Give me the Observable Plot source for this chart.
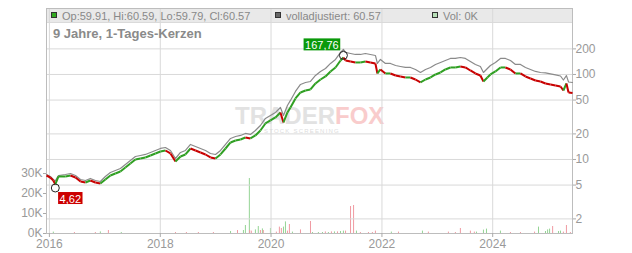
<!DOCTYPE html>
<html><head><meta charset="utf-8">
<script src="https://cdn.jsdelivr.net/npm/d3@7"></script>
<script src="https://cdn.jsdelivr.net/npm/@observablehq/plot@0.6"></script>
<style>
body{margin:0;background:#fff;font-family:"Liberation Sans",Arial,sans-serif;}
#wrap{position:relative;width:632px;height:253px;overflow:hidden;background:#fff}
#wrap svg{position:absolute;left:0;top:0}
.abs{position:absolute;white-space:nowrap}
.band{left:46px;top:8px;width:526px;height:15px;background:#e9e9e9;border-bottom:1px solid #dadada;box-sizing:border-box}
.sq{width:4px;height:4px;border:1px solid #333;top:12px}
.leg{font-size:11px;line-height:11px;color:#888;top:10.5px}
.title{font-size:13px;line-height:13px;font-weight:bold;color:#8a8a8a;left:53px;top:27px}
.wm{font-size:24px;line-height:24px;font-weight:bold;left:235px;top:104px;letter-spacing:0px}
.tag{font-size:6px;line-height:7px;color:#dcdcdc;left:264px;top:128px;letter-spacing:1.2px}
</style></head>
<body>
<div id="wrap">
  <div class="abs band"></div>
  <div class="abs wm"><span style="color:#e2e2e2">TRADER</span><span style="color:#f9cccc">FOX</span></div>
  <div class="abs tag">STOCK SCREENING</div>
</div>
<script>
// ---- data ----
const dates = ["2015-12-13","2016-01-07","2016-01-27","2016-02-09","2016-03-01","2016-04-16","2016-05-19","2016-06-21","2016-07-24","2016-08-26","2016-09-27","2016-10-30","2016-12-02","2017-01-04","2017-02-06","2017-03-11","2017-04-13","2017-05-16","2017-06-18","2017-07-21","2017-08-23","2017-09-25","2017-10-28","2017-11-30","2018-01-02","2018-02-04","2018-03-09","2018-04-11","2018-05-14","2018-06-16","2018-07-19","2018-08-21","2018-09-23","2018-10-26","2018-11-28","2018-12-31","2019-02-02","2019-03-07","2019-04-09","2019-05-12","2019-06-14","2019-07-16","2019-08-18","2019-09-20","2019-10-23","2019-11-25","2019-12-28","2020-01-30","2020-03-03","2020-03-23","2020-04-18","2020-05-08","2020-06-10","2020-07-13","2020-08-15","2020-09-17","2020-10-20","2020-11-22","2020-12-25","2021-01-27","2021-03-01","2021-04-03","2021-04-22","2021-05-06","2021-06-08","2021-07-10","2021-08-12","2021-09-14","2021-10-17","2021-11-19","2021-12-02","2021-12-22","2022-01-24","2022-02-26","2022-04-01","2022-05-03","2022-06-05","2022-07-08","2022-08-10","2022-09-12","2022-10-15","2022-11-17","2022-12-20","2023-01-22","2023-02-23","2023-03-28","2023-04-30","2023-06-02","2023-07-05","2023-08-07","2023-09-09","2023-10-12","2023-11-01","2023-11-27","2023-12-17","2024-01-19","2024-02-21","2024-03-25","2024-04-27","2024-05-30","2024-07-02","2024-08-04","2024-09-06","2024-10-09","2024-11-11","2024-12-14","2025-01-16","2025-02-18","2025-03-23","2025-04-11","2025-05-01","2025-05-15","2025-06-10"];
const closes = [6.48,6.14,5.66,5.08,6.31,6.31,6.48,6.14,5.51,5.36,5.66,5.36,5.22,5.82,6.48,6.84,7.22,8.05,8.97,10.0,10.27,10.56,11.14,11.77,12.42,12.76,11.77,9.47,10.85,11.45,13.47,12.76,12.09,11.45,10.56,10.27,11.45,13.47,15.85,16.73,17.19,18.15,17.67,19.16,21.94,26.52,28.76,31.2,35.72,27.25,35.72,40.92,52.2,61.4,64.8,66.6,78.4,87.3,94.7,108.5,120.9,146.1,158.5,146.1,142.2,138.4,138.4,142.2,138.4,134.7,102.8,114.5,102.8,102.8,97.3,94.7,92.2,92.2,87.3,80.5,87.3,92.2,100,105.6,114.5,120.9,120.9,124.2,120.9,111.4,102.8,97.3,82.7,92.2,100,108.5,120.9,120.9,114.5,102.8,102.8,94.7,89.7,85,82.7,78.4,76.3,74.3,72.2,64.8,78.4,61.4,60.57];
const adjusted = [6.65,6.31,5.81,5.6,6.48,6.66,6.84,6.48,5.82,5.66,5.98,5.66,5.51,6.31,7.03,7.42,7.83,8.73,9.73,10.85,11.14,11.46,12.09,12.77,13.48,13.84,12.77,10.27,12.1,12.77,15.02,14.23,13.48,12.77,11.77,11.45,12.77,15.02,17.67,18.65,19.17,20.24,19.7,21.94,25.12,30.37,32.93,35.72,40.9,32.9,43.2,49.5,63.1,76.3,80.5,82.7,97.4,108.4,117.6,134.8,150.2,181.5,196.9,181.5,176.6,171.9,171.9,176.6,171.9,167.3,134.8,150.1,134.8,134.8,127.6,124.2,120.9,120.9,114.5,105.5,114.5,120.9,131.1,138.4,146.1,154.3,154.3,158.5,154.3,142.2,131.2,124.2,105.5,117.6,127.6,138.4,154.3,154.3,146.1,131.2,131.2,120.9,114.5,108.5,105.5,104.2,101.4,98.7,96,86.1,97,81.6,80.5];

const volDates = ["2016-01-27","2016-06-14","2016-10-30","2016-12-02","2017-01-24","2017-04-19","2018-04-11","2018-06-22","2018-09-09","2018-12-17","2019-04-09","2019-05-25","2019-07-03","2019-07-16","2019-08-11","2019-08-13","2019-08-24","2019-09-20","2019-10-09","2019-10-23","2019-11-05","2019-11-11","2019-12-28","2020-02-05","2020-02-25","2020-03-09","2020-03-23","2020-04-05","2020-04-18","2020-05-01","2020-05-21","2020-07-13","2020-09-17","2020-09-30","2020-11-08","2020-12-05","2020-12-24","2021-01-13","2021-02-02","2021-02-22","2021-03-14","2021-04-03","2021-04-22","2021-05-06","2021-06-08","2021-06-28","2021-07-17","2021-08-12","2021-10-04","2021-10-30","2021-11-19","2022-03-04","2022-04-20","2022-09-25","2022-11-03","2023-03-15","2023-04-30","2023-06-02","2023-08-07","2023-09-02","2023-09-16","2023-11-01","2023-11-21","2024-02-21","2024-04-27","2024-07-02","2024-10-03","2024-10-29","2024-12-14","2024-12-28","2025-01-10","2025-01-30","2025-03-10","2025-03-23","2025-04-11","2025-05-01","2025-05-27"];
const volValues = [0.7,0.5,0.5,0.8,1.5,0.5,0.5,0.5,0.5,0.5,1,1.5,1.5,4,27.5,1.5,1.2,1.8,3.5,1.5,2.3,1.5,2.5,0.7,3.2,2.5,3.2,5.8,1.2,4.5,0.7,1.8,6,0.5,0.5,0.5,0.8,0.5,0.8,0.8,0.8,1,1.2,1.2,13.5,14,1.2,0.5,0.5,0.5,1.2,0.7,0.7,1.2,0.7,0.7,0.5,2.5,1.2,0.7,0.7,1.7,2.2,1.2,0.5,0.5,0.7,3.2,1,1.8,2.2,3.5,1,1.2,0.7,4,0.5];
const volUp = [1,0,0,1,0,1,0,0,0,0,1,0,1,1,1,0,0,1,1,0,1,0,1,0,0,0,1,1,0,0,1,0,0,1,1,1,0,1,0,1,0,1,1,0,0,0,1,0,0,0,0,1,0,1,0,0,0,0,0,0,1,1,1,1,0,0,0,1,1,1,1,0,1,1,0,0,0];

const priceTicks = [2,5,10,20,50,100,200];
const volTicks = [0,10,20,30];
const yearTicks = ["2016-01-01","2018-01-01","2020-01-01","2022-01-01","2024-01-01"];
const extremeDates = ["2021-04-22","2016-02-09"];
const extremeValues = [167.76,4.62];
const extremeLabels = ["167,76","4,62"];
const legendText = ["Op:59.91, Hi:60.59, Lo:59.79, Cl:60.57","volladjustiert: 60.57","Vol: 0K"];
const titleText = "9 Jahre, 1-Tages-Kerzen";

// ---- layout ----
const W = 632, H = 253, ML = 46, MR = 60, MT = 8, MB = 20;
const xDomain = [new Date("2015-12-13"), new Date("2025-06-10")];
const font = '"Liberation Sans", Arial, sans-serif';
const GREEN = "#2f9f22", RED = "#c80000";

const rows = dates.map((d, i) => ({date: new Date(d), close: closes[i], adj: adjusted[i]}));
const segs = rows.slice(1).map((r, i) => ({x1: rows[i].date, y1: rows[i].close, x2: r.date, y2: r.close, up: r.close >= rows[i].close}));
const vols = volDates.map((d, i) => ({date: new Date(d), v: volValues[i], up: volUp[i] === 1}));
const years = yearTicks.map(d => new Date(d));
const ext = extremeDates.map((d, i) => ({date: new Date(d), v: extremeValues[i], label: extremeLabels[i]}));

const common = {
  width: W, height: H, marginLeft: ML, marginRight: MR, marginTop: MT, marginBottom: MB,
  style: {background: "transparent", color: "#999", fontFamily: font, fontSize: "12px", overflow: "visible"}
};

const volChart = Plot.plot({
  ...common,
  x: {type: "time", domain: xDomain, axis: null},
  y: {domain: [0, 112.5], axis: null},
  marks: [
    Plot.ruleX(vols, {x: "date", y1: 0, y2: "v", stroke: d => d.up ? "#94d494" : "#f09aa2", strokeWidth: 1}),
    Plot.axisY(volTicks, {anchor: "left", label: null, tickSize: 3, tickPadding: 1, tickFormat: d => d + "K", stroke: "#aaa"})
  ]
});

const priceChart = Plot.plot({
  ...common,
  x: {type: "time", domain: xDomain, axis: null},
  y: {type: "log", domain: [1.347, 597], axis: null},
  marks: [
    Plot.gridY(priceTicks, {stroke: "#d9d9d9", strokeOpacity: 1}),
    Plot.gridX(years, {stroke: "#d9d9d9", strokeOpacity: 1}),
    Plot.frame({stroke: "#bdbdbd"}),
    Plot.axisY(priceTicks, {anchor: "right", label: null, tickSize: 3, tickFormat: () => "", stroke: "#aaa"}),
    Plot.text(priceTicks, {y: d => d, text: d => String(d), frameAnchor: "right", dx: 3, textAnchor: "start", fill: "#999", fontSize: 12}),
    Plot.axisX(years, {anchor: "bottom", label: null, tickSize: 4, tickPadding: 2, tickFormat: d => String(d.getFullYear()), stroke: "#aaa"}),
    Plot.line(rows, {x: "date", y: "adj", stroke: "#8a8a8a", strokeWidth: 1.2}),
    Plot.link(segs, {x1: "x1", y1: "y1", x2: "x2", y2: "y2", stroke: d => d.up ? GREEN : RED, strokeWidth: 2}),
    Plot.dot(ext, {x: "date", y: "v", r: 4, stroke: "#222", strokeWidth: 1, fill: "none"}),
    Plot.text(ext.slice(0, 1), {x: "date", y: "v", text: "label", dx: -21.5, dy: -10, fill: "white", fontSize: 11}),
    Plot.text(ext.slice(1), {x: "date", y: "v", text: "label", dx: 15, dy: 11, fill: "white", fontSize: 11})
  ]
});

const wrap = document.getElementById("wrap");
wrap.appendChild(volChart);
wrap.appendChild(priceChart);

// label boxes behind the extreme-value texts
const boxColor = {"167,76": "#0a990a", "4,62": "#cc0000"};
d3.select(priceChart).selectAll("text")
  .filter(function() { return extremeLabels.includes(this.textContent); })
  .each(function() {
    const bb = this.getBBox();
    const node = this;
    d3.select(this.parentNode).insert("rect", () => node)
      .attr("x", bb.x - 1.5).attr("y", bb.y - 0.5)
      .attr("width", bb.width + 3).attr("height", bb.height)
      .attr("transform", this.getAttribute("transform"))
      .attr("fill", boxColor[this.textContent]);
  });

// legend + title (HTML text above the plot)
function addDiv(cls, style, html) {
  const d = document.createElement("div");
  d.className = "abs " + cls;
  d.style.cssText = style;
  d.innerHTML = html;
  wrap.appendChild(d);
}
addDiv("sq", "left:51px;background:#33aa22", "");
addDiv("leg", "left:62px", legendText[0]);
addDiv("sq", "left:275px;background:#666", "");
addDiv("leg", "left:286px", legendText[1]);
addDiv("sq", "left:432px;background:#b8e0b8", "");
addDiv("leg", "left:443px", legendText[2]);
addDiv("title", "", titleText);
</script>
</body></html>
